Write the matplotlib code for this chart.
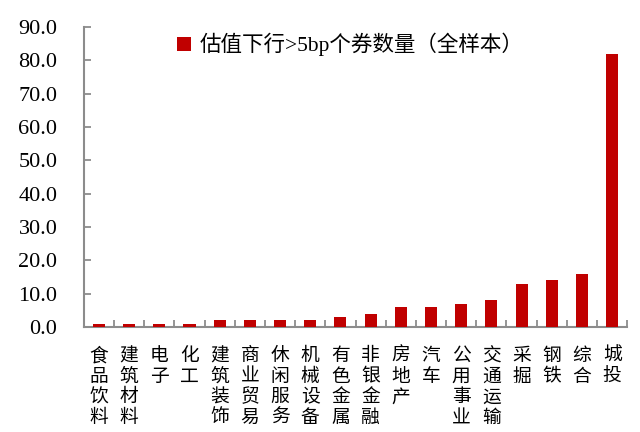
import numpy as np
import matplotlib
matplotlib.use("Agg")
import matplotlib.pyplot as plt
from matplotlib.ticker import FormatStrFormatter, FixedLocator

plt.rcParams['font.family'] = ['Liberation Serif', 'Noto Sans CJK SC']

# --- DATA ---
industries = ["食品饮料", "建筑材料", "电子", "化工", "建筑装饰", "商业贸易",
              "休闲服务", "机械设备", "有色金属", "非银金融", "房地产", "汽车",
              "公用事业", "交通运输", "采掘", "钢铁", "综合", "城投"]
counts = [1, 1, 1, 1, 2, 2, 2, 2, 3, 4, 6, 6, 7, 8, 13, 14, 16, 82]
series_name = "估值下行>5bp个券数量（全样本）"

BAR_COLOR = "#C00000"
AXIS_COLOR = "#8C8C8C"

fig = plt.figure(figsize=(6.4, 4.32), dpi=100)
ax = fig.add_axes([0.131, 0.243, 0.849, 0.6945])

x = np.arange(len(industries))
ax.bar(x, counts, width=0.4, color=BAR_COLOR, label=series_name, zorder=3)

ax.set_xlim(-0.5, len(industries) - 0.5)
ax.set_ylim(0, 90)
ax.set_yticks(np.arange(0, 91, 10))
ax.yaxis.set_major_formatter(FormatStrFormatter("%.1f"))

# labels centred under bars, tick marks between categories
ax.set_xticks(x)
ax.set_xticklabels(["\n".join(name) for name in industries],
                   family=['Noto Sans CJK SC'], fontsize=13.5, linespacing=0.98,
                   va='top')
ax.xaxis.set_minor_locator(FixedLocator(np.arange(-0.5, len(industries), 1.0)))
ax.tick_params(axis='x', which='major', length=0, pad=13)
ax.tick_params(axis='x', which='minor', direction='in', length=5,
               width=1.3, color=AXIS_COLOR)
ax.tick_params(axis='y', direction='in', length=5, width=1.3,
               color=AXIS_COLOR, labelsize=16, pad=19)

for side in ['top', 'right']:
    ax.spines[side].set_visible(False)
for side in ['left', 'bottom']:
    ax.spines[side].set_color(AXIS_COLOR)
    ax.spines[side].set_linewidth(1.5)

leg = ax.legend(loc='upper center', bbox_to_anchor=(0.49, 1.045), frameon=False,
                handlelength=0.65, handleheight=0.65, handletextpad=0.4,
                prop={'family': ['Liberation Serif', 'Noto Sans CJK SC'], 'size': 15.5})

fig.savefig("out.png", dpi=100)
